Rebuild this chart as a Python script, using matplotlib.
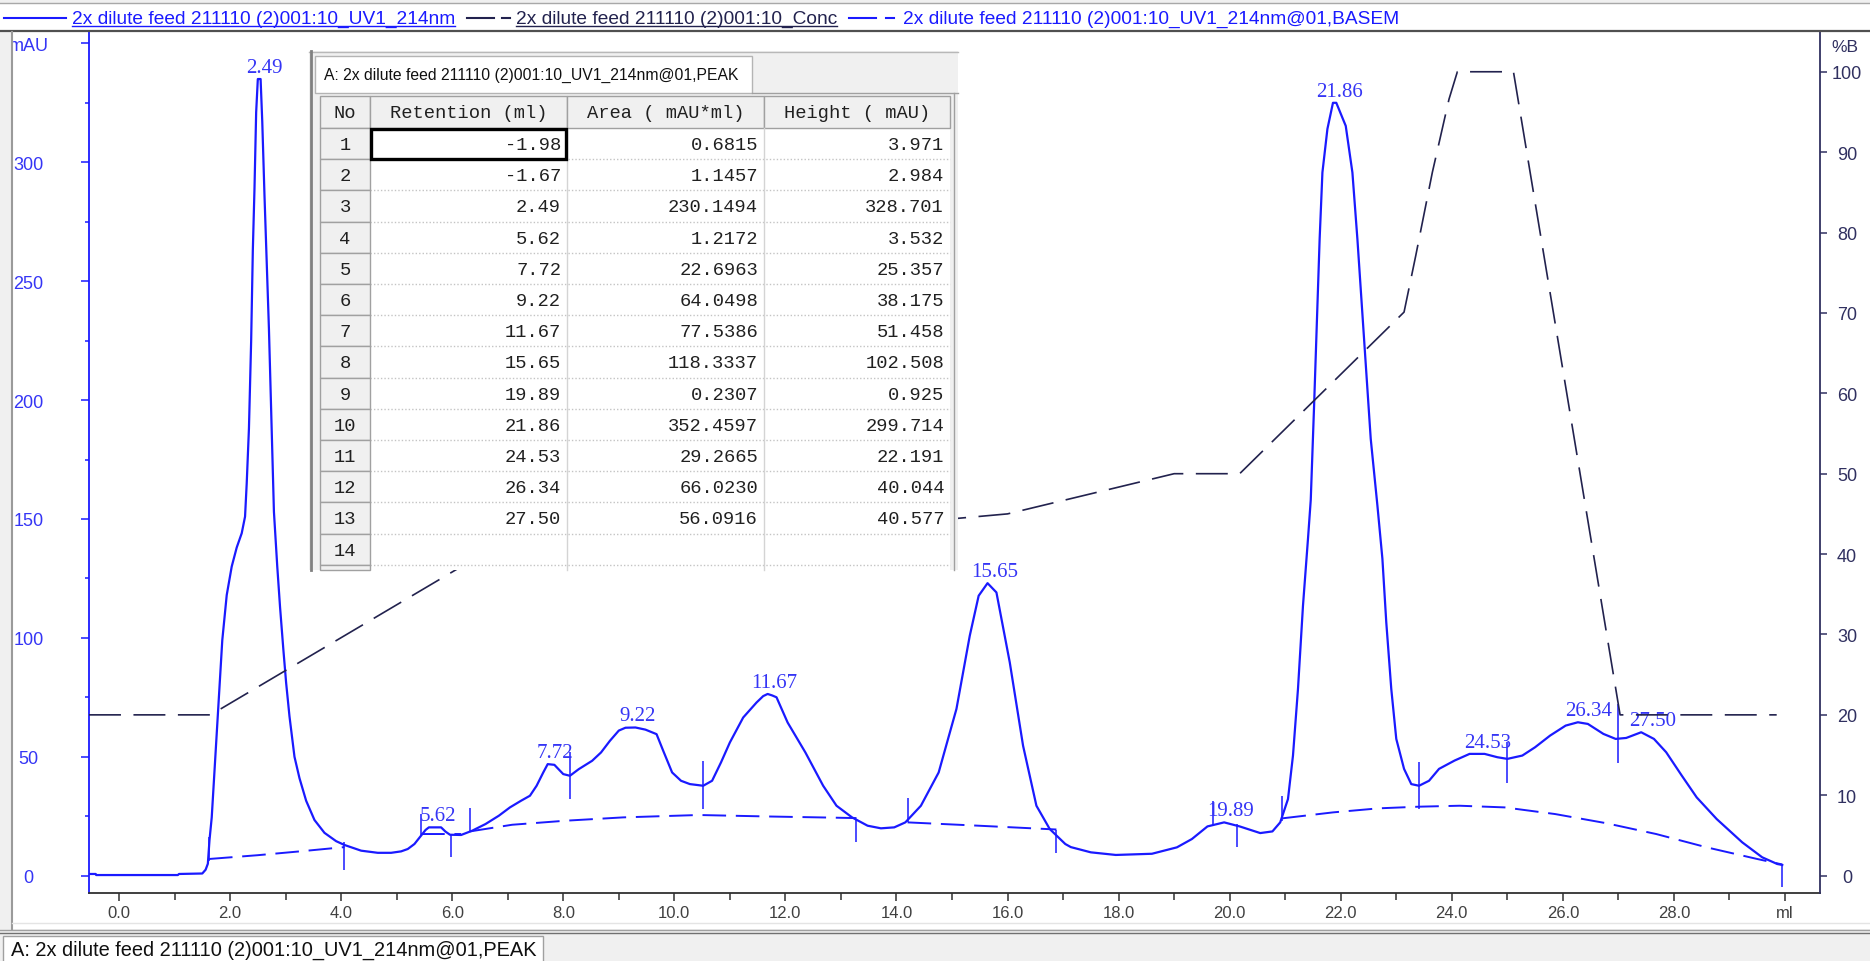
import numpy as np
import matplotlib
matplotlib.use("Agg")
import matplotlib.pyplot as plt
from matplotlib.patches import Rectangle

plt.rcParams['lines.scale_dashes'] = False
plt.rcParams['font.family'] = ['Liberation Sans', 'DejaVu Sans']

# ---------------- data ----------------
uv_ml = [-0.54, -0.42, -0.41, 1.06, 1.08, 1.50, 1.56, 1.60, 1.63, 1.67, 1.73, 1.79, 1.86, 1.94,
         2.03, 2.12, 2.21, 2.27, 2.30, 2.34, 2.38, 2.41, 2.44, 2.47, 2.50, 2.55, 2.58, 2.62,
         2.66, 2.70, 2.75, 2.79, 2.85, 2.90, 2.96, 3.01, 3.07, 3.16, 3.25, 3.37, 3.52, 3.70,
         3.91, 4.06, 4.36, 4.66, 4.90, 5.08, 5.20, 5.32, 5.44, 5.52, 5.58, 5.80, 5.88, 5.96,
         6.16, 6.36, 6.60, 6.84, 7.04, 7.24, 7.40, 7.52, 7.64, 7.72, 7.84, 8.00, 8.12, 8.28,
         8.52, 8.68, 8.84, 9.00, 9.12, 9.30, 9.48, 9.68, 9.80, 9.96, 10.12, 10.28, 10.52,
         10.68, 10.84, 11.00, 11.24, 11.48, 11.60, 11.68, 11.76, 11.84, 12.04, 12.36, 12.68,
         12.92, 13.20, 13.48, 13.72, 13.96, 14.16, 14.44, 14.76, 15.08, 15.32, 15.48, 15.64,
         15.80, 16.04, 16.28, 16.52, 16.76, 17.04, 17.14, 17.50, 17.95, 18.60, 19.05, 19.32,
         19.60, 19.90, 20.18, 20.55, 20.77, 20.91, 21.05, 21.14, 21.23, 21.32, 21.41, 21.46,
         21.52, 21.58, 21.62, 21.67, 21.76, 21.86, 21.92, 22.09, 22.21, 22.30, 22.42, 22.54,
         22.66, 22.75, 22.82, 22.91, 23.00, 23.14, 23.27, 23.41, 23.59, 23.77, 24.05, 24.32,
         24.59, 24.82, 25.00, 25.27, 25.50, 25.77, 26.05, 26.27, 26.45, 26.73, 26.95, 27.14,
         27.41, 27.64, 27.86, 28.14, 28.41, 28.77, 29.23, 29.59, 29.86, 29.95]
uv_mau = [0.7, 0.7, 0.25, 0.25, 0.7, 0.9, 2.5, 5.0, 15.0, 24.5, 48.0, 71.0, 99.0, 118.0,
          130.0, 138.0, 144.0, 151.0, 165.0, 188.0, 225.0, 263.0, 289.0, 321.0, 335.0, 335.0,
          317.0, 286.0, 258.0, 230.0, 188.0, 153.0, 130.0, 113.0, 95.0, 81.0, 67.0, 50.0,
          41.0, 31.5, 23.4, 18.0, 14.5, 12.9, 10.5, 9.6, 9.6, 10.2, 11.2, 13.3, 16.8, 19.2,
          20.3, 20.3, 18.5, 17.2, 17.1, 18.9, 21.7, 25.2, 28.7, 31.5, 33.6, 37.8, 43.4, 46.9,
          46.6, 42.7, 42.0, 44.8, 48.3, 51.8, 56.7, 61.0, 62.2, 62.3, 61.4, 59.5, 52.5, 43.4,
          39.9, 38.5, 37.8, 39.9, 47.6, 56.0, 66.5, 72.8, 75.5, 76.4, 75.8, 75.0, 64.4, 51.8,
          37.8, 29.4, 24.5, 21.0, 19.9, 20.3, 22.4, 29.4, 43.4, 70.1, 100.9, 117.7, 123.0,
          119.1, 89.7, 54.6, 29.4, 19.6, 13.3, 12.0, 9.8, 8.7, 9.2, 11.9, 15.4, 20.7, 22.4,
          20.7, 17.9, 18.6, 22.4, 32.2, 50.5, 78.5, 113.5, 141.6, 158.0, 197.6, 239.7, 267.7,
          295.7, 314.0, 325.0, 325.0, 315.3, 295.7, 267.7, 225.8, 183.7, 155.7, 133.3, 106.5,
          78.5, 57.5, 44.9, 38.5, 37.8, 39.9, 44.9, 48.4, 51.2, 51.2, 49.8, 49.1, 50.5, 54.0,
          58.9, 63.1, 64.5, 63.8, 59.6, 57.5, 57.9, 60.3, 57.5, 51.9, 42.1, 32.9, 23.8, 14.0,
          7.7, 4.9, 4.5]

nan = np.nan
base_ml = [1.62, 2.5, 3.3, 4.06, nan, 5.44, 6.16, nan, 6.32, 7.08, 8.04, 9.08, 10.44, 11.64,
           12.6, 13.28, nan, 14.2, 15.48, 16.88, nan, 20.95, 21.86, 22.68, 23.41, 24.14, 24.95,
           25.86, 26.77, 27.68, 28.59, 29.5, 29.95]
base_mau = [7.0, 8.6, 10.3, 12.0, nan, 17.5, 17.5, nan, 18.6, 21.4, 23.1, 24.5, 25.5, 24.9,
            24.5, 24.2, nan, 22.4, 21.0, 19.4, nan, 24.1, 26.6, 28.3, 29.0, 29.4, 28.7, 25.9,
            22.1, 17.5, 11.9, 7.0, 4.7]

conc_ml = [-0.54, 1.65, 6.3, 15.03, 16.0, 19.0, 20.18, 23.14, 23.35, 23.65, 23.95, 24.1,
           25.11, 27.03, 29.85]
conc_pct = [20, 20, 39.0, 44.4, 45.0, 50.0, 50.0, 70.1, 77.1, 87.5, 96.6, 100, 100, 20, 20]

mark_ml = [1.62, 4.06, 5.44, 5.98, 6.32, 8.12, 10.52, 13.28, 14.2, 16.88, 19.70, 20.14,
           20.95, 23.41, 25.0, 27.0, 29.95]
mark_top = [16.4, 14.0, 25.9, 17.5, 28.3, 51.8, 48.3, 23.8, 32.5, 19.1, 31.5, 21.7, 33.6,
            47.9, 56.1, 72.2, 4.9]
mark_bot = [6.3, 2.3, 16.8, 7.7, 18.5, 32.2, 28.0, 14.0, 22.4, 9.6, 21.0, 11.9, 23.1, 28.0,
            39.0, 47.4, -4.9]

tbl_no = [1, 2, 3, 4, 5, 6, 7, 8, 9, 10, 11, 12, 13, 14]
tbl_ret = [-1.98, -1.67, 2.49, 5.62, 7.72, 9.22, 11.67, 15.65, 19.89, 21.86, 24.53, 26.34, 27.50]
tbl_area = [0.6815, 1.1457, 230.1494, 1.2172, 22.6963, 64.0498, 77.5386, 118.3337, 0.2307,
            352.4597, 29.2665, 66.0230, 56.0916]
tbl_height = [3.971, 2.984, 328.701, 3.532, 25.357, 38.175, 51.458, 102.508, 0.925, 299.714,
              22.191, 40.044, 40.577]
tbl_headers = ["No", "Retention (ml)", "Area ( mAU*ml)", "Height ( mAU)"]

x_major = [0, 2, 4, 6, 8, 10, 12, 14, 16, 18, 20, 22, 24, 26, 28, 30]
x_minor = [1, 3, 5, 7, 9, 11, 13, 15, 17, 19, 21, 23, 25, 27, 29]
yl_major = [0, 50, 100, 150, 200, 250, 300, 350]
yl_minor = [25, 75, 125, 175, 225, 275, 325]
yr_major = [0, 10, 20, 30, 40, 50, 60, 70, 80, 90, 100]

run_name = "2x dilute feed 211110 (2)001:10"
legend_labels = [run_name + "_UV1_214nm", run_name + "_Conc", run_name + "_UV1_214nm@01,BASEM"]
peak_tab = "A: " + run_name + "_UV1_214nm@01,PEAK"

# ---------------- style ----------------
W, H, DPI = 1870, 962, 100
BLUE = '#1a1aff'
LBLUE = '#3535f5'
NAVY = '#22224e'
RNAVY = '#303060'
GREY = '#404040'

fig = plt.figure(figsize=(W / DPI, H / DPI), dpi=DPI, facecolor='white')

AX_L, AX_R, AX_T, AX_B = 89, 1820, 32, 894
ax = fig.add_axes([AX_L / W, 1 - AX_B / H, (AX_R - AX_L) / W, (AX_B - AX_T) / H])
ax.set_xlim(-0.54, 30.63)
ax.set_ylim(-7.3, 355.2)
ax2 = ax.twinx()
ax2.set_ylim(-2.16, 105.07)

ax.plot(uv_ml, uv_mau, color=BLUE, lw=1.6, zorder=3, solid_joinstyle='round')
ax.plot(base_ml, base_mau, color=BLUE, lw=1.4, ls=(0, (17, 7)), zorder=2)
ax.vlines(mark_ml, mark_bot, mark_top, color=BLUE, lw=1.1, zorder=3)
ax2.plot(conc_ml, conc_pct, color=NAVY, lw=1.2, ls=(0, (23, 9)), zorder=2)

uv_ml_a = np.array(uv_ml)
uv_mau_a = np.array(uv_mau)
for r in tbl_ret:
    if r < 0:
        continue
    sel = np.abs(uv_ml_a - r) <= 0.25
    top = uv_mau_a[sel].max()
    ax.annotate(f"{r:.2f}", xy=(r, top), xytext=(5, 1.5), textcoords='offset points',
                ha='center', va='bottom', fontsize=15, color=LBLUE,
                family='Liberation Serif', zorder=4)

for s in ['top', 'right']:
    ax.spines[s].set_visible(False)
for s in ['top', 'left', 'bottom']:
    ax2.spines[s].set_visible(False)
ax.spines['left'].set_color(BLUE)
ax.spines['left'].set_linewidth(1.3)
ax.spines['bottom'].set_color('#303030')
ax.spines['bottom'].set_linewidth(1.3)
ax2.spines['right'].set_color(RNAVY)
ax2.spines['right'].set_linewidth(1.3)

ax.set_xticks(x_major)
ax.set_xticks(x_minor, minor=True)
ax.set_xticklabels([f"{v:.1f}" if v < 30 else "ml" for v in x_major])
ax.tick_params(axis='x', which='both', direction='out', color='#303030', width=1.1,
               labelsize=12, labelcolor=GREY, pad=3)
ax.tick_params(axis='x', which='major', length=6)
ax.tick_params(axis='x', which='minor', length=5)

ax.set_yticks(yl_major)
ax.set_yticks(yl_minor, minor=True)
ax.set_yticklabels([str(v) if v < 350 else "mAU" for v in yl_major])
ax.tick_params(axis='y', which='both', direction='out', color=BLUE, width=1.1,
               labelsize=13, labelcolor=LBLUE, pad=37.5)
ax.tick_params(axis='y', which='major', length=6)
ax.tick_params(axis='y', which='minor', length=3)
for t in ax.get_yticklabels():
    t.set_horizontalalignment('center')

ax2.set_yticks(yr_major)
ax2.set_yticklabels([str(v) for v in yr_major])
ax2.tick_params(axis='y', which='major', direction='out', length=5, width=1.1, color=RNAVY,
                labelsize=13, labelcolor=RNAVY, pad=14.4)
for t in ax2.get_yticklabels():
    t.set_horizontalalignment('center')

# ---------------- chrome overlay (pixel coordinates) ----------------
ov = fig.add_axes([0, 0, 1, 1])
ov.set_xlim(0, W)
ov.set_ylim(H, 0)
ov.axis('off')
ov.patch.set_alpha(0)

ov.text(1845, 47, "%B", ha='center', va='center', fontsize=12.5, color=RNAVY)

# top legend bar
LY = 19
ov.add_patch(Rectangle((0, 0), W, 3.5, facecolor='#f0f0f0', edgecolor='none'))
ov.plot([0, W], [4, 4], color='#a8a8a8', lw=1)
ov.plot([0, W], [32, 32], color='#505050', lw=1.6)
renderer = fig.canvas.get_renderer()


def legend_text(x, s, color, underline):
    t = ov.text(x, LY, s, ha='left', va='center', fontsize=13.75, color=color)
    if underline:
        bb = t.get_window_extent(renderer=renderer)
        x1 = x + bb.width * W / (fig.get_figwidth() * fig.dpi)
        ov.plot([x, x1], [LY + 8, LY + 8], color=color, lw=1)


ov.plot([4, 66], [LY, LY], color=BLUE, lw=1.5)
legend_text(72, legend_labels[0], BLUE, True)
ov.plot([467, 494], [LY, LY], color=NAVY, lw=1.5)
ov.plot([502, 510], [LY, LY], color=NAVY, lw=1.5)
legend_text(516, legend_labels[1], NAVY, True)
ov.plot([849, 876], [LY, LY], color=BLUE, lw=1.5)
ov.plot([886, 894], [LY, LY], color=BLUE, lw=1.5)
legend_text(903, legend_labels[2], BLUE, False)

# left border
ov.add_patch(Rectangle((0, 33), 11, 897, facecolor='#f0f0f0', edgecolor='none'))
ov.plot([12, 12], [33, 930], color='#9a9a9a', lw=1.5)

# bottom bar and tab
ov.plot([12, W], [924, 924], color='#e4e4e4', lw=1)
ov.add_patch(Rectangle((0, 930), W, H - 930, facecolor='#f0f0f0', edgecolor='none'))
ov.plot([0, W], [931, 931], color='#a0a0a0', lw=1)
ov.plot([0, W], [934, 934], color='#707070', lw=1)
ov.add_patch(Rectangle((3, 937), 540, 30, facecolor='white', edgecolor='#a0a0a0', lw=1))
ov.text(11, 950, peak_tab, ha='left', va='center', fontsize=14.4, color='#101010')

# peak table window
WX0, WX1, WY0, WY1 = 309, 958, 52, 571
ov.add_patch(Rectangle((WX0, WY0), WX1 - WX0, WY1 - WY0, facecolor='#f0f0f0',
                       edgecolor='none', zorder=1))
ov.plot([WX0, WX1], [WY0 + 1, WY0 + 1], color='#b8b8b8', lw=1, zorder=2)
ov.plot([WX0 + 1.5, WX0 + 1.5], [WY0, WY1], color='#808080', lw=2, zorder=2)
ov.add_patch(Rectangle((315, 57), 437, 37, facecolor='white', edgecolor='#b4b4b4', lw=1,
                       zorder=2))
ov.plot([752, WX1], [94, 94], color='#a0a0a0', lw=1, zorder=2)
ov.text(324, 75, peak_tab, ha='left', va='center', fontsize=11.3, color='#101010', zorder=3)

cols = [320, 370, 567, 764, 950]
HY0, HY1 = 97, 129
RH = 31.2
ov.add_patch(Rectangle((cols[0], HY0), cols[-1] - cols[0], WY1 - HY0, facecolor='white',
                       edgecolor='none', zorder=2))
ov.plot([WX1 - 4, WX1 - 4], [94, WY1], color='#a0a0a0', lw=1, zorder=3)
for i in range(4):
    ov.add_patch(Rectangle((cols[i], HY0), cols[i + 1] - cols[i], HY1 - HY0,
                           facecolor='#f0f0f0', edgecolor='#a0a0a0', lw=1, zorder=3))
    ov.text((cols[i] + cols[i + 1]) / 2, (HY0 + HY1) / 2 + 1, tbl_headers[i], ha='center',
            va='center', fontsize=13.5, family='Liberation Mono', color='#202020', zorder=4)

nrows = 15
for k in range(nrows):
    y0 = HY1 + k * RH
    y1 = min(y0 + RH, WY1)
    if y0 >= WY1:
        break
    ov.add_patch(Rectangle((cols[0], y0), cols[1] - cols[0], y1 - y0, facecolor='#f0f0f0',
                           edgecolor='#a0a0a0', lw=1, zorder=3))
    if y0 + RH <= WY1 + 1:
        ov.plot([cols[1], cols[-1]], [y0 + RH, y0 + RH], color='#c4c4c4', lw=1,
                ls=(0, (1, 1.5)), zorder=3)
for c in cols[2:4]:
    ov.plot([c, c], [HY1, WY1], color='#d4d4d4', lw=1, zorder=3)

for k, n in enumerate(tbl_no):
    yc = HY1 + (k + 0.5) * RH + 1
    ov.text((cols[0] + cols[1]) / 2, yc, str(n), ha='center', va='center', fontsize=13.5,
            family='Liberation Mono', color='#202020', zorder=4)
    if k < len(tbl_ret):
        ov.text(cols[2] - 6, yc, f"{tbl_ret[k]:.2f}", ha='right', va='center', fontsize=13.5,
                family='Liberation Mono', color='#202020', zorder=4)
        ov.text(cols[3] - 6, yc, f"{tbl_area[k]:.4f}", ha='right', va='center', fontsize=13.5,
                family='Liberation Mono', color='#202020', zorder=4)
        ov.text(cols[4] - 6, yc, f"{tbl_height[k]:.3f}", ha='right', va='center',
                fontsize=13.5, family='Liberation Mono', color='#202020', zorder=4)

ov.add_patch(Rectangle((cols[1] + 1, HY1 + 1), cols[2] - cols[1] - 2, RH - 1,
                       facecolor='none', edgecolor='#000000', lw=2.4, zorder=5))

fig.savefig("out.png", dpi=DPI, facecolor='white')
